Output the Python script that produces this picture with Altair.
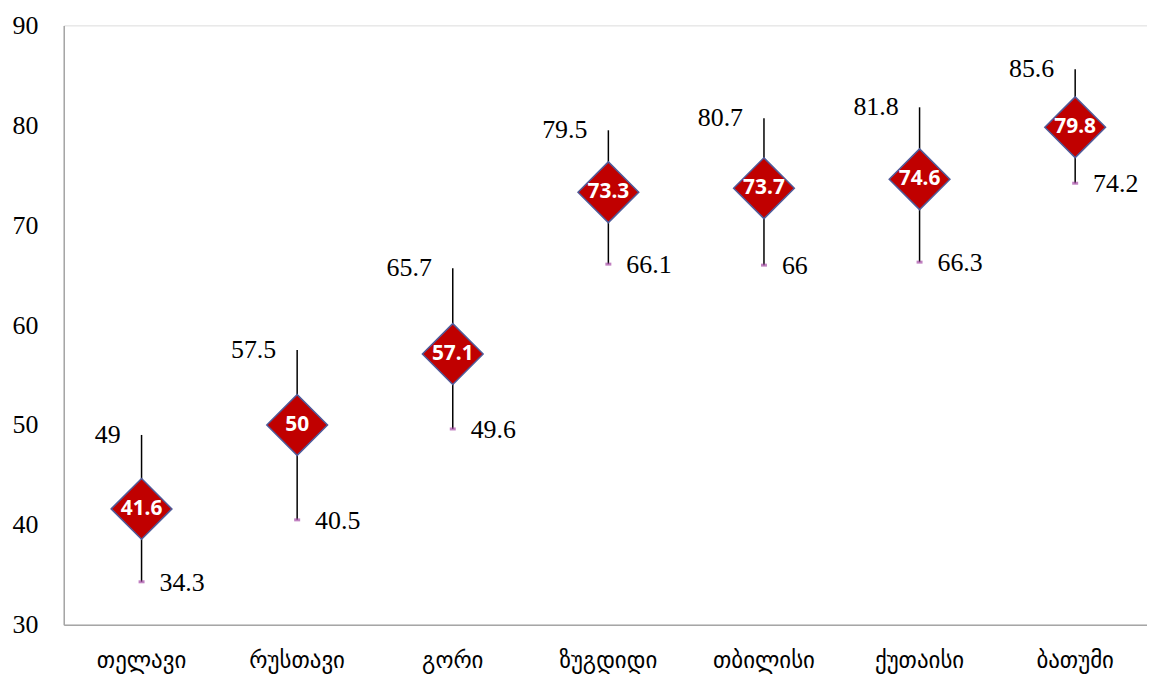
import altair as alt
import pandas as pd

cities = ["თელავი", "რუსთავი", "გორი", "ზუგდიდი", "თბილისი", "ქუთაისი", "ბათუმი"]
high = [49, 57.5, 65.7, 79.5, 80.7, 81.8, 85.6]
mid = [41.6, 50, 57.1, 73.3, 73.7, 74.6, 79.8]
low = [34.3, 40.5, 49.6, 66.1, 66, 66.3, 74.2]

df = pd.DataFrame({
    "city": cities,
    "high": high,
    "mid": mid,
    "low": low,
    "high_lbl": [f"{v:g}" for v in high],
    "mid_lbl": [f"{v:g}" for v in mid],
    "low_lbl": [f"{v:g}" for v in low],
})

SERIF = "Liberation Serif"

x = alt.X("city:N", sort=cities, title=None,
          scale=alt.Scale(paddingInner=0, paddingOuter=0),
          axis=alt.Axis(labelAngle=0, ticks=False, labelPadding=25, labelFontSize=23,
                        labelFont="DejaVu Sans", labelColor="black",
                        domainColor="#a6a6a6", domainWidth=1.5))
yscale = alt.Scale(domain=[30, 90], nice=False, zero=False)

base = alt.Chart(df).encode(x=x)

rule = base.mark_rule(color="black", strokeWidth=1.5).encode(
    y=alt.Y("low:Q", scale=yscale, title=None,
            axis=alt.Axis(values=[30, 40, 50, 60, 70, 80, 90], grid=False, ticks=False,
                          labelPadding=26, labelFontSize=26, labelFont=SERIF,
                          labelColor="black", domainColor="#a6a6a6", domainWidth=1.5)),
    y2="high:Q",
)

lowmark = base.mark_tick(color="#a64ca6", orient="horizontal", size=6, thickness=3).encode(
    y=alt.Y("low:Q", scale=yscale)
)

diamond = base.mark_point(shape="diamond", size=3721, filled=True, fill="#c00000",
                          stroke="#4f5b9a", strokeWidth=1.5, opacity=1).encode(
    y=alt.Y("mid:Q", scale=yscale)
)

midtext = base.mark_text(color="white", fontWeight="bold", fontSize=21, font="Noto Sans",
                         baseline="middle", align="center").encode(
    y=alt.Y("mid:Q", scale=yscale), text="mid_lbl:N"
)

hightext = base.mark_text(color="black", fontSize=26, font=SERIF, baseline="middle",
                          align="right", dx=-21, dy=0).encode(
    y=alt.Y("high:Q", scale=yscale), text="high_lbl:N"
)

lowtext = base.mark_text(color="black", fontSize=26, font=SERIF, baseline="middle",
                         align="left", dx=18, dy=1).encode(
    y=alt.Y("low:Q", scale=yscale), text="low_lbl:N"
)

chart = alt.layer(rule, lowmark, diamond, midtext, hightext, lowtext).properties(
    width=1094, height=602,
    autosize=alt.AutoSizeParams(type="none"),
    padding={"left": 56, "top": 16, "right": -6, "bottom": 50},
).configure_view(stroke=None).configure(background="white")

chart.save("out.html", embed_options={"renderer": "svg", "actions": False})
